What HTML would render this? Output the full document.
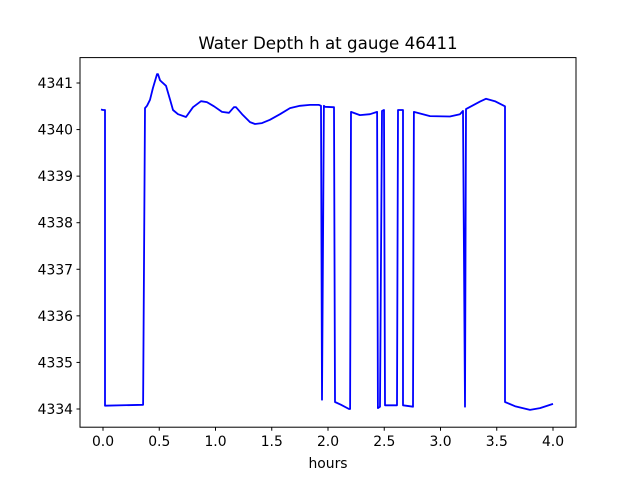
<!DOCTYPE html>
<html><head><meta charset="utf-8"><style>
body{margin:0;background:#fff;}
svg{display:block;font-family:"DejaVu Sans","Liberation Sans",sans-serif;}
</style></head><body>
<svg id="chart" width="640" height="480">
<rect x="0" y="0" width="640" height="480" fill="#fff"/>
<text x="328" y="49" font-size="16.7" text-anchor="middle">Water Depth h at gauge 46411</text>
<g id="plot"></g>
<rect x="80" y="57.6" width="496" height="369.6" fill="none" stroke="#000" stroke-width="1"/>
<g id="xaxis"></g><g id="yaxis"></g>
<text x="328" y="468" font-size="13.9" text-anchor="middle">hours</text>
</svg>
<script>
const times=[-0.018,0,0.018,0.018,0.356,0.373,0.391,0.418,0.444,0.48,0.489,0.507,0.524,0.56,0.596,0.622,0.667,0.738,0.8,0.871,0.924,0.987,1.058,1.12,1.164,1.182,1.236,1.307,1.351,1.413,1.484,1.573,1.662,1.751,1.84,1.92,1.938,1.947,1.964,1.973,2.044,2.053,2.062,2.116,2.187,2.196,2.204,2.284,2.373,2.436,2.444,2.462,2.48,2.498,2.507,2.613,2.622,2.667,2.667,2.756,2.764,2.907,3.084,3.173,3.2,3.218,3.227,3.351,3.404,3.484,3.573,3.573,3.662,3.796,3.884,4.0];
const depths=[4340.43,4340.42,4340.42,4334.07,4334.09,4340.46,4340.51,4340.64,4340.89,4341.19,4341.19,4341.06,4341.02,4340.94,4340.64,4340.42,4340.33,4340.27,4340.48,4340.61,4340.59,4340.5,4340.38,4340.36,4340.48,4340.48,4340.33,4340.16,4340.12,4340.14,4340.21,4340.33,4340.46,4340.51,4340.53,4340.53,4340.51,4334.2,4340.51,4340.49,4340.48,4340.48,4334.15,4334.09,4334.0,4334.0,4340.38,4340.31,4340.33,4340.38,4334.02,4334.05,4340.4,4340.42,4334.08,4334.08,4340.42,4340.42,4334.08,4334.05,4340.38,4340.29,4340.28,4340.33,4340.4,4334.05,4340.44,4340.6,4340.66,4340.61,4340.5,4334.15,4334.06,4333.98,4334.02,4334.11];
const xTicks=[0,0.5,1,1.5,2,2.5,3,3.5,4];
const xLabels=["0.0","0.5","1.0","1.5","2.0","2.5","3.0","3.5","4.0"];
const yTicks=[4334,4335,4336,4337,4338,4339,4340,4341];
const yLabels=["4334","4335","4336","4337","4338","4339","4340","4341"];
const NS="http://www.w3.org/2000/svg";
const xs=t=>103+t*112.5;
const ys=h=>83+(4341-h)*46.57;
const plot=document.getElementById('plot');
const line=document.createElementNS(NS,'polyline');


line.setAttribute('points',times.map((t,i)=>xs(t).toFixed(1)+','+ys(depths[i]).toFixed(1)).join(' '));
line.setAttribute('fill','none');line.setAttribute('stroke','#0000ff');line.setAttribute('stroke-width','1.8');line.setAttribute('stroke-linejoin','round');
plot.appendChild(line);
const xa=document.getElementById('xaxis');
xTicks.forEach((v,i)=>{const x=xs(v);
const l=document.createElementNS(NS,'line');


l.setAttribute('x1',x);l.setAttribute('x2',x);l.setAttribute('y1',427.2);l.setAttribute('y2',430.7);l.setAttribute('stroke','#000');xa.appendChild(l);
const t=document.createElementNS(NS,'text');


t.setAttribute('x',x);t.setAttribute('y',446);t.setAttribute('font-size','13.9');t.setAttribute('text-anchor','middle');t.textContent=xLabels[i];xa.appendChild(t);});
const ya=document.getElementById('yaxis');
yTicks.forEach((v,i)=>{const y=ys(v);
const l=document.createElementNS(NS,'line');


l.setAttribute('x1',76.5);l.setAttribute('x2',80);l.setAttribute('y1',y);l.setAttribute('y2',y);l.setAttribute('stroke','#000');ya.appendChild(l);
const t=document.createElementNS(NS,'text');


t.setAttribute('x',73);t.setAttribute('y',y+5);t.setAttribute('font-size','13.9');t.setAttribute('text-anchor','end');t.textContent=yLabels[i];ya.appendChild(t);});
</script>
</body></html>
